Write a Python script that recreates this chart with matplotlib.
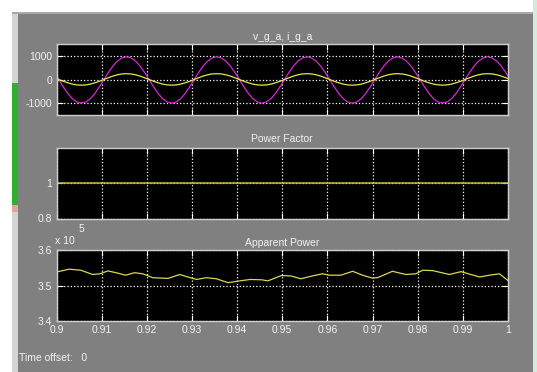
import matplotlib.pyplot as plt
from matplotlib.patches import Rectangle

# scope trace 1: grid voltage / current, 1 ms samples starting at t = 0.9005
t_vi = [0.9] + [round(0.9005 + 0.001 * k, 4) for k in range(100)] + [1.0]
v_g_a = [150,
         0, -310, -590, -810, -950, -990, -950, -810, -590, -310,
         0, 300, 570, 780, 910, 960, 910, 780, 570, 300,
         0, -310, -590, -810, -950, -1000, -950, -810, -590, -310,
         0, 300, 570, 780, 910, 960, 910, 780, 570, 300,
         0, -310, -590, -810, -950, -1000, -950, -810, -590, -310,
         0, 300, 570, 780, 910, 960, 910, 780, 570, 300,
         0, -310, -590, -810, -950, -1000, -950, -810, -590, -310,
         0, 300, 570, 780, 910, 960, 910, 780, 570, 300,
         0, -310, -590, -810, -950, -990, -950, -810, -590, -310,
         0, 300, 570, 780, 910, 960, 910, 780, 570, 300,
         150]
i_g_a = [40,
         0, -75, -140, -195, -228, -240, -228, -195, -140, -75,
         0, 75, 145, 200, 235, 245, 235, 200, 145, 75,
         0, -75, -140, -195, -228, -240, -228, -195, -140, -75,
         0, 75, 145, 200, 235, 245, 235, 200, 145, 75,
         0, -75, -140, -195, -228, -240, -228, -195, -140, -75,
         0, 75, 145, 200, 235, 245, 235, 200, 145, 75,
         0, -75, -140, -195, -228, -240, -228, -195, -140, -75,
         0, 75, 145, 200, 235, 245, 235, 200, 145, 75,
         0, -75, -140, -195, -228, -240, -228, -195, -140, -75,
         0, 75, 145, 200, 235, 245, 235, 200, 145, 75,
         40]

# scope trace 2: power factor
t_pf = [0.9, 1.0]
power_factor = [1.0, 1.0]

# scope trace 3: apparent power (x 10^5)
t_s = [0.9, 0.9028, 0.9054, 0.908, 0.9096, 0.9114, 0.9132, 0.9153, 0.9173, 0.9191,
       0.9213, 0.9247, 0.9273, 0.9291, 0.931, 0.9332, 0.9354, 0.938, 0.9406, 0.9429,
       0.9455, 0.9468, 0.9498, 0.9519, 0.9541, 0.9567, 0.9589, 0.9604, 0.963, 0.9656,
       0.9678, 0.9699, 0.9711, 0.9744, 0.9774, 0.9796, 0.9811, 0.9833, 0.987, 0.9896,
       0.9915, 0.9937, 0.9959, 0.9981, 1.0]
apparent_power = [3.538, 3.546, 3.543, 3.531, 3.533, 3.541, 3.536, 3.529, 3.536, 3.533,
                  3.522, 3.520, 3.531, 3.524, 3.517, 3.522, 3.519, 3.508, 3.513, 3.517,
                  3.516, 3.513, 3.528, 3.527, 3.519, 3.527, 3.533, 3.529, 3.529, 3.540,
                  3.529, 3.521, 3.522, 3.540, 3.531, 3.533, 3.543, 3.542, 3.531, 3.539,
                  3.532, 3.524, 3.529, 3.533, 3.514]

xticks = [0.9, 0.91, 0.92, 0.93, 0.94, 0.95, 0.96, 0.97, 0.98, 0.99, 1.0]
xticklabels = ["0.9", "0.91", "0.92", "0.93", "0.94", "0.95", "0.96", "0.97", "0.98", "0.99", "1"]

plt.rcParams['font.family'] = ['Liberation Sans', 'DejaVu Sans']
W, H = 537, 372
fig = plt.figure(figsize=(W / 100, H / 100), dpi=100, facecolor='white')

def px_rect(x0, y0, x1, y1, color):
    # rectangle given in image pixels (origin top-left)
    fig.patches.append(Rectangle((x0 / W, 1 - y1 / H), (x1 - x0) / W, (y1 - y0) / H,
                                 transform=fig.transFigure, facecolor=color,
                                 edgecolor='none', zorder=-10))

# window frame pieces
px_rect(18, 14, 533, 372, '#808080')
px_rect(12, 12, 533, 14, '#a8a8a8')
px_rect(12, 14, 18, 372, '#d4d4d4')
px_rect(12, 83, 18, 205, '#2fb02f')
px_rect(12, 205, 18, 212, '#e8a0a0')
px_rect(533, 0, 537, 372, '#d6ead6')

txt = '#f2f2f2'
fs = 7.5
left, width = 56.5 / W, 451.5 / W

def make_axes(y_top, y_bot):
    ax = fig.add_axes([left, 1 - y_bot / H, width, (y_bot - y_top) / H])
    ax.set_facecolor('black')
    for s in ax.spines.values():
        s.set_color('#cfcfcf')
        s.set_linewidth(1.0)
    ax.set_xlim(0.9, 1.0)
    ax.set_xticks(xticks)
    ax.tick_params(direction='in', top=True, right=True, colors='white',
                   labelcolor=txt, labelsize=fs, length=4, width=0.8, pad=3)
    ax.grid(True, color='white', linestyle=':', linewidth=0.9)
    return ax

ax1 = make_axes(44, 115)
ax1.plot(t_vi, v_g_a, color='#d22ad2', linewidth=0.9)
ax1.plot(t_vi, i_g_a, color='#e6e64a', linewidth=0.9)
ax1.set_ylim(-1500, 1500)
ax1.set_yticks([-1000, 0, 1000])
ax1.set_yticklabels(["-1000", "0", "1000"])
ax1.set_xticklabels([])
ax1.set_title("v_g_a, i_g_a", color=txt, fontsize=fs, pad=3)

ax2 = make_axes(148, 218.5)
ax2.plot(t_pf, power_factor, color='#bcbc4c', linewidth=1.1)
ax2.set_ylim(0.8, 1.2)
ax2.set_yticks([0.8, 1.0])
ax2.set_yticklabels(["0.8", "1"])
ax2.set_xticklabels([])
ax2.set_title("Power Factor", color=txt, fontsize=fs, pad=4)

ax3 = make_axes(250, 321)
ax3.plot(t_s, apparent_power, color='#d8d84a', linewidth=0.9)
ax3.set_ylim(3.4, 3.6)
ax3.set_yticks([3.4, 3.5, 3.6])
ax3.set_yticklabels(["3.4", "3.5", "3.6"])
ax3.set_xticklabels(xticklabels)
ax3.set_title("Apparent Power", color=txt, fontsize=fs, pad=3)

# exponent label like the scope shows it
fig.text(55 / W, 1 - 241 / H, "x 10", color=txt, fontsize=fs, va='center', ha='left')
fig.text(79 / W, 1 - 229 / H, "5", color=txt, fontsize=fs, va='center', ha='left')

fig.text(19 / W, 1 - 358 / H, "Time offset:   0", color=txt, fontsize=fs, va='center', ha='left')

fig.savefig('out.png', dpi=100, facecolor='white')
